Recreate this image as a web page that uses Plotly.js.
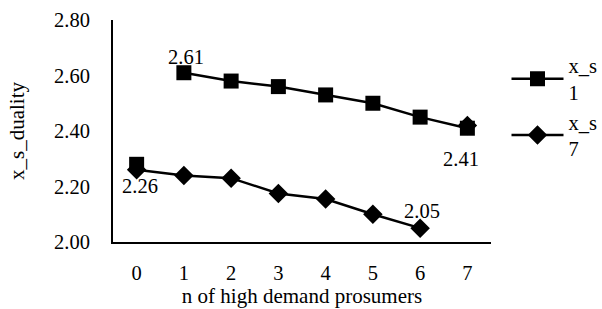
<!DOCTYPE html>
<html><head><meta charset="utf-8">
<script src="https://cdn.plot.ly/plotly-3.0.1.min.js"></script>
<style>html,body{margin:0;padding:0;background:#fff}#c{width:602px;height:309px}</style>
</head><body><div id="c"></div>
<script>
const categories = ['0','1','2','3','4','5','6','7'];
const s1Main = [2.61, 2.58, 2.56, 2.53, 2.50, 2.45, 2.41];   // x = 1..7
const s1Extra = [2.28];                                      // x = 0, not connected
const s7Main = [2.26, 2.24, 2.23, 2.175, 2.155, 2.10, 2.05];  // x = 0..6
const s7Extra = [2.42];                                      // x = 7, not connected
const s1Labels = ['2.61','','','','','','2.41'];
const s7Labels = ['2.26','','','','','','2.05'];

const font = '"Liberation Serif", serif';
const numSize = 20.5;
const s1X = categories.slice(1), s7X = categories.slice(0,7);

// label offsets (pixels, y up) per labelled point
const s1Shift = {0:[2,16], 6:[-6,-31]};
const s7Shift = {0:[3,-16], 6:[2,17]};
const annotations = [];
s1Labels.forEach((t,i)=>{ if(t){ annotations.push({x:s1X[i], y:s1Main[i], text:t, showarrow:false,
  xshift:s1Shift[i][0], yshift:s1Shift[i][1], font:{family:font,size:numSize,color:'#000'}}); }});
s7Labels.forEach((t,i)=>{ if(t){ annotations.push({x:s7X[i], y:s7Main[i], text:t, showarrow:false,
  xshift:s7Shift[i][0], yshift:s7Shift[i][1], font:{family:font,size:numSize,color:'#000'}}); }});

const traces = [
  {x: s7X, y: s7Main, name: 'x_s<br>7', legendgroup:'b', mode:'lines+markers',
   line:{color:'#000',width:2.5}, marker:{symbol:'diamond',size:15,color:'#000'}},
  {x: categories.slice(7), y: s7Extra, name:'x_s7', legendgroup:'b', showlegend:false, mode:'markers',
   marker:{symbol:'diamond',size:15,color:'#000'}},
  {x: s1X, y: s1Main, name: 'x_s<br>1', legendgroup:'a', mode:'lines+markers',
   line:{color:'#000',width:2.5}, marker:{symbol:'square',size:15,color:'#000'}},
  {x: categories.slice(0,1), y: s1Extra, name:'x_s1', legendgroup:'a', showlegend:false, mode:'markers',
   marker:{symbol:'square',size:15,color:'#000'}}
];
const layout = {
  width:602, height:309,
  margin:{l:113, r:111, t:20, b:67, autoexpand:false},
  paper_bgcolor:'#fff', plot_bgcolor:'#fff',
  font:{family:font, size:numSize, color:'#000'},
  showlegend:true,
  annotations: annotations,
  legend:{x:1.041, y:0.885, xanchor:'left', yanchor:'top', traceorder:'reversed', itemwidth:52,
          font:{family:font,size:20.5,color:'#000'}, tracegroupgap:14, bgcolor:'rgba(0,0,0,0)'},
  xaxis:{type:'category', categoryorder:'array', categoryarray:categories, range:[-0.5,7.5],
         showline:true, linecolor:'#000', linewidth:2, showgrid:false, zeroline:false,
         ticks:'', ticklabelstandoff:11, tickfont:{family:font,size:numSize},
         title:{text:'n of high demand prosumers', font:{family:font,size:21}, standoff:6}},
  yaxis:{range:[2.0,2.8], tickvals:[2.0,2.2,2.4,2.6,2.8], ticktext:['2.00','2.20','2.40','2.60','2.80'],
         showline:true, linecolor:'#000', linewidth:2, showgrid:false, zeroline:false,
         ticks:'', ticklabelstandoff:17, tickfont:{family:font,size:numSize},
         title:{text:'x_s_duality', font:{family:font,size:21}, standoff:24}}
};
Plotly.newPlot('c', traces, layout, {displayModeBar:false, staticPlot:true});
</script></body></html>
